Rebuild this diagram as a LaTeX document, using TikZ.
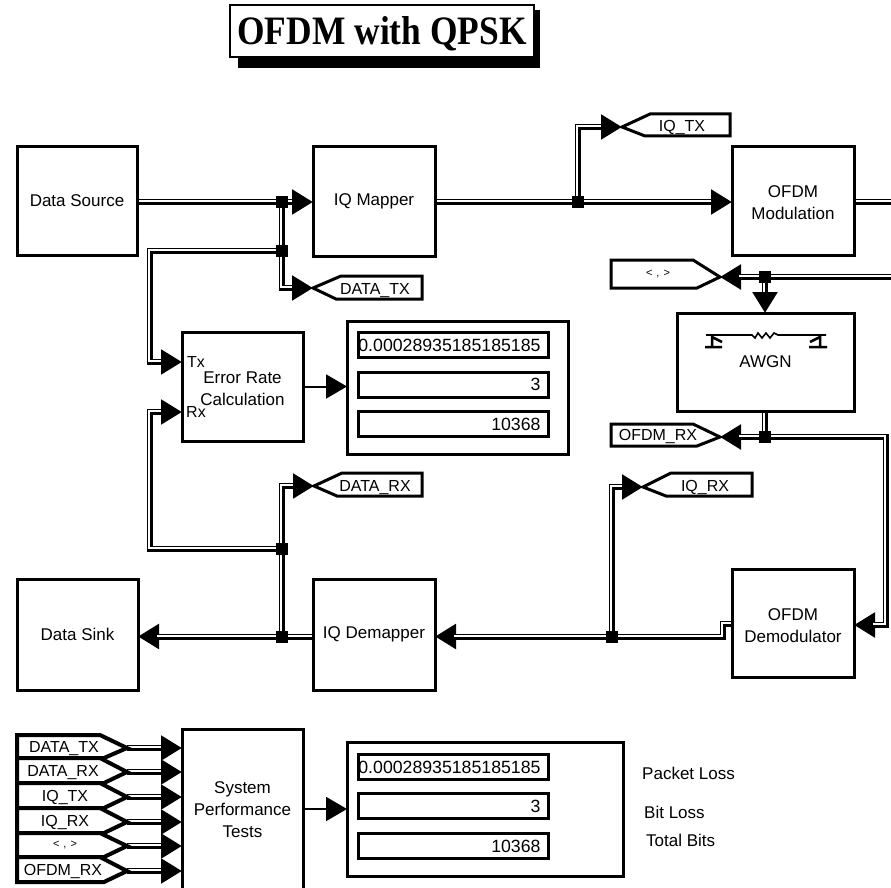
\documentclass[tikz,border=0pt]{standalone}
\usepackage{fontspec}
\setmainfont{Liberation Sans}
\newfontfamily\titlefont{Liberation Serif}
\usetikzlibrary{arrows.meta,backgrounds,calc}
\tikzset{
  box/.style={draw,line width=3pt,fill=white,outer sep=0pt,inner sep=0pt,align=center,font=\fontsize{17}{22}\selectfont},
  panel/.style={draw,line width=3pt,outer sep=0pt,inner sep=0pt},
  field/.style={draw,line width=3pt,outer sep=0pt,inner sep=0pt,minimum width=190pt,minimum height=25pt,text width=190pt,align=right,font=\fontsize{17.7}{20}\selectfont},
  junc/.style={fill=black,inner sep=0pt,outer sep=0pt,minimum size=12pt},
  tagline/.style={draw,line width=3pt,fill=white,line join=miter},
  tagtext/.style={inner sep=0pt,text height=11.5pt,text depth=0pt,font=\fontsize{16}{18}\selectfont},
  smalltag/.style={inner sep=0pt,font=\fontsize{11}{13}\selectfont},
  note/.style={inner sep=0pt,anchor=west,font=\fontsize{17}{20}\selectfont},
  busout/.style={draw=black,line width=6pt,line join=miter,line cap=butt},
  busin/.style={draw=white,line width=1.6pt,line join=miter,line cap=butt,transform canvas={xshift=-0.8pt,yshift=0.8pt}},
  tipped/.style={-{Triangle[length=21pt,width=24pt]}},
  thinarrow/.style={draw=black,line width=2pt,-{Triangle[length=21pt,width=24pt]}},
}
\newcommand\downtext{\rule{0pt}{17pt}}
\newcommand\uptext{\rule[-5pt]{0pt}{5pt}}
\newcommand\fieldval[1]{#1\rule{7.5pt}{0pt}}
% plain double bus
\newcommand\busline[1]{\draw[busout] #1; \draw[busin] #1;}
% double bus ending in a filled triangle
\newcommand\busarrow[1]{\draw[busout,tipped] #1; \draw[busin,shorten >=20pt] #1;}
% tag pointing left: name, tip x, tip y, right x, top, bottom, text x, text
\newcommand\tagleft[8]{%
  \coordinate (#1tip) at (#2,#3);
  \draw[tagline] (#1tip) -- ({#2+28},#5) -- (#4,#5) -- (#4,#6) -- ({#2+23},#6) -- cycle;
  \node[tagtext] (#1) at (#7,{(#5+#6)/2+1}) {#8};}
% tag pointing right: name, tip x, tip y, left x, top, bottom, text x, text, style
\newcommand\tagright[9]{%
  \coordinate (#1tip) at (#2,#3);
  \draw[tagline] (#1tip) -- ({#2-27},#5) -- (#4,#5) -- (#4,#6) -- ({#2-23},#6) -- cycle;
  \node[#9] (#1) at (#7,{(#5+#6)/2}) {#8};}
\newcommand\phasetext{<\hspace{4pt},\hspace{4pt}>}
\begin{document}
\begin{tikzpicture}[x=1pt,y=-1pt]
\useasboundingbox (0,0) rectangle (891,888);

% title
\fill[black] (238,10) rectangle (540,68);
\node[draw,line width=2pt,fill=white,minimum width=304pt,minimum height=52pt,inner sep=0pt,outer sep=0pt,text height=27pt,text depth=0pt,font=\titlefont\bfseries\fontsize{35.4}{38}\selectfont] (title) at (382,31.5) {\scalebox{1}[1.14]{OFDM with QPSK}};

% blocks
\node[box,minimum width=120pt,minimum height=109pt] (src) at (77,200.5) {Data Source};
\node[box,minimum width=122pt,minimum height=110pt] (map) at (374,201) {IQ Mapper};
\node[box,minimum width=122pt,minimum height=109pt] (mod) at (793,200.5) {\downtext OFDM\\Modulation};
\node[box,minimum width=177pt,minimum height=98pt] (awgn) at (765.5,362) {AWGN};
\node[box,minimum width=121pt,minimum height=109pt] (err) at (242.5,386.5) {\downtext Error Rate\\Calculation};
\node[box,minimum width=121pt,minimum height=111pt] (snk) at (77.5,634.5) {Data Sink};
\node[box,minimum width=122pt,minimum height=111pt] (dem) at (374,634.5) {IQ Demapper};
\node[box,minimum width=122pt,minimum height=108pt] (dmd) at (793,623) {\downtext OFDM\\Demodulator};
\node[box,minimum width=121pt,minimum height=166pt] (sys) at (242.5,812) {System\\Performance\\Tests\uptext};
\node[inner sep=0pt,font=\fontsize{16}{18}\selectfont] (tx) at (196,362) {Tx};
\node[inner sep=0pt,font=\fontsize{16}{18}\selectfont] (rx) at (196,412) {Rx};

% display panels
\node[panel,minimum width=221pt,minimum height=133pt] (pa) at (457.5,387.5) {};
\node[field] (pa1) at (453,345) {\fieldval{0.00028935185185185}};
\node[field] (pa2) at (453,384.5) {\fieldval{3}};
\node[field] (pa3) at (453,424) {\fieldval{10368}};
\node[panel,minimum width=276pt,minimum height=134pt] (pb) at (485,809) {};
\node[field] (pb1) at (453,767) {\fieldval{0.00028935185185185}};
\node[field] (pb2) at (453,806) {\fieldval{3}};
\node[field] (pb3) at (453,846) {\fieldval{10368}};
\node[note] (nb1) at (642,773) {Packet Loss};
\node[note] (nb2) at (644,812) {Bit Loss};
\node[note] (nb3) at (646,840) {Total Bits};

% tags
\tagleft{dtx}{313}{288}{422}{276}{299}{375}{DATA\_TX}
\tagleft{drx}{314}{486}{422}{473}{496}{375}{DATA\_RX}
\tagleft{iqt}{622}{127}{730}{114}{136}{682}{IQ\_TX}
\tagleft{iqr}{643}{487}{752}{473}{496}{705}{IQ\_RX}
\tagright{pha}{720}{277}{611}{260}{288}{658}{\phasetext}{smalltag}
\tagright{orx}{720}{437}{611}{424}{446}{658}{OFDM\_RX}{tagtext}
\begin{scope}[tagline/.append style={line width=4pt}]
\tagright{a1}{127}{748}{17}{735}{758}{64}{DATA\_TX}{tagtext}
\tagright{a2}{127}{772}{17}{758}{783}{63}{DATA\_RX}{tagtext}
\tagright{a3}{127}{797}{17}{783}{808}{65}{IQ\_TX}{tagtext}
\tagright{a4}{127}{822}{17}{808}{833}{65}{IQ\_RX}{tagtext}
\tagright{a5}{127}{846}{17}{833}{857}{65}{\phasetext}{smalltag}
\tagright{a6}{127}{871}{17}{857}{882}{63}{OFDM\_RX}{tagtext}
\end{scope}

% junctions
\node[junc] (j1) at (281.5,202) {};
\node[junc] (j2) at (281.5,251) {};
\node[junc] (j3) at (578,202) {};
\node[junc] (j4) at (765,277) {};
\node[junc] (j5) at (765,437) {};
\node[junc] (j6) at (612,636.5) {};
\node[junc] (j7) at (281.5,636.5) {};
\node[junc] (j8) at (281.5,549) {};

% free ends and routing points
\coordinate (modout) at (895,202);
\coordinate (phain) at (895,277);
\coordinate (outer) at (886,437);
\coordinate (txin) at (err.west |- tx);
\coordinate (rxin) at (err.west |- rx);
\coordinate (dmdout) at (732,624);
\coordinate (jog) at (722.5,624);
\coordinate (dmdin) at (dmd.east |- 0,625);

\begin{pgfonlayer}{background}
\busline{(src.east |- j1.center) -- (j1.center)}
\busarrow{(j1.center) -- (map.west |- j1.center)}
\busline{(j1.center) -- (j2.center)}
\busarrow{(j2.center) |- (dtxtip)}
\busarrow{(j2.center) -- (149.5,251) |- (txin)}
\busline{(map.east |- j3.center) -- (j3.center)}
\busarrow{(j3.center) -- (mod.west |- j3.center)}
\busarrow{(j3.center) |- (iqttip)}
\busline{(mod.east |- modout) -- (modout)}
\busline{(phain) -- (j4.center)}
\busarrow{(j4.center) -- (phatip)}
\busarrow{(j4.center) -- (awgn.north -| j4.center)}
\busline{(awgn.south -| j5.center) -- (j5.center)}
\busarrow{(j5.center) -- (orxtip)}
\busarrow{(j5.center) -- (outer) |- (dmdin)}
\busline{(dmdout) -- (jog) |- (j6.center)}
\busarrow{(j6.center) -- (dem.east |- j6.center)}
\busarrow{(j6.center) |- (iqrtip)}
\busline{(dem.west |- j7.center) -- (j7.center)}
\busarrow{(j7.center) -- (snk.east |- j7.center)}
\busline{(j7.center) -- (j8.center)}
\busarrow{(j8.center) |- (drxtip)}
\busarrow{(j8.center) -- (149.5,549) |- (rxin)}
\busarrow{(a1tip) -- (sys.west |- a1tip)}
\busarrow{(a2tip) -- (sys.west |- a2tip)}
\busarrow{(a3tip) -- (sys.west |- a3tip)}
\busarrow{(a4tip) -- (sys.west |- a4tip)}
\busarrow{(a5tip) -- (sys.west |- a5tip)}
\busarrow{(a6tip) -- (sys.west |- a6tip)}
\end{pgfonlayer}

\draw[thinarrow] (err.east) -- (pa.west |- err.east);
\draw[thinarrow] (sys.east |- pb.west) -- (pb.west);

% AWGN channel icon
\draw[line width=1.6pt,line join=miter]
  (706,335) -- (752,335) -- (755,338) -- (758,333) -- (762,338) -- (766,333) -- (770,338) -- (774,333) -- (778,335) -- (826,335);
\draw[line width=2.5pt] (705,347) -- (722,347) (712,335) -- (712,347) (712,337) -- (722,342);
\draw[line width=2.5pt] (809,347) -- (827,347) (820,335) -- (820,347) (820,337) -- (810,342);
\end{tikzpicture}
\end{document}
